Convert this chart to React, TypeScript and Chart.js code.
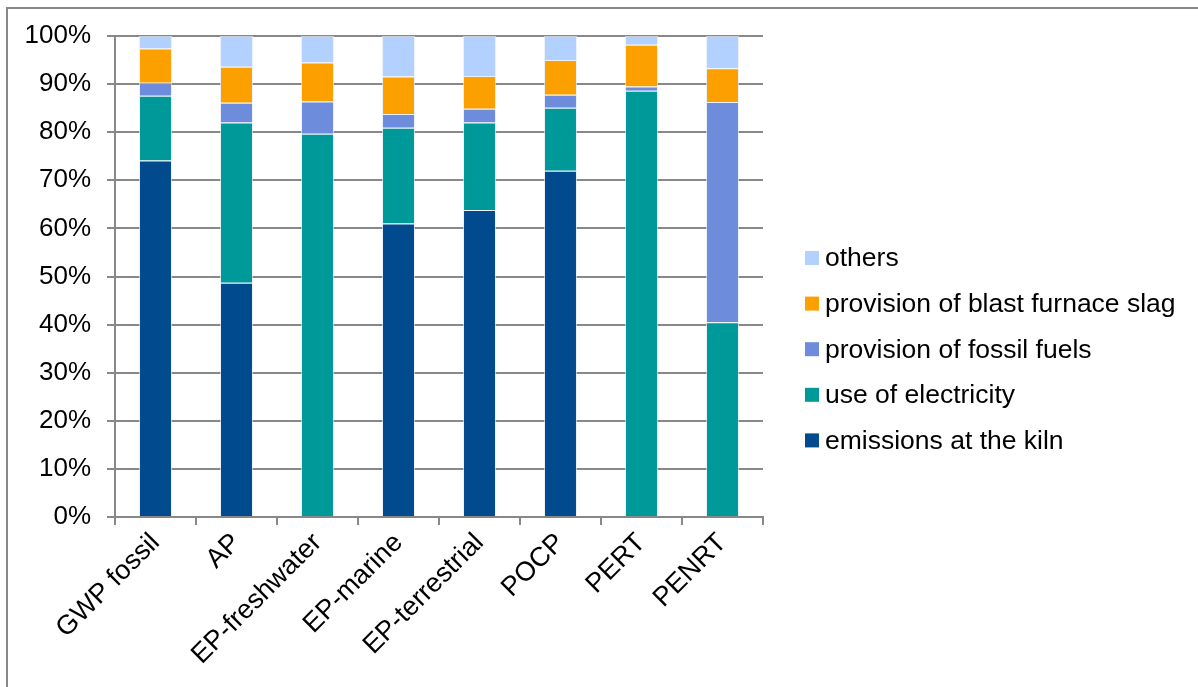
import React, { useEffect, useRef } from "react";
import { Chart, registerables } from "chart.js";

Chart.register(...registerables);

const categories = ["GWP fossil", "AP", "EP-freshwater", "EP-marine", "EP-terrestrial", "POCP", "PERT", "PENRT"];
const seriesNames = ["emissions at the kiln", "use of electricity", "provision of fossil fuels", "provision of blast furnace slag", "others"];
const emissionsKiln = [74.1, 48.7, 0, 61.0, 63.8, 72.0, 0, 0];
const useElectricity = [13.5, 33.3, 79.7, 19.9, 18.2, 13.1, 88.6, 40.5];
const fossilFuels = [2.7, 4.1, 6.7, 2.9, 2.9, 2.7, 0.9, 45.8];
const blastFurnaceSlag = [7.1, 7.5, 8.1, 7.8, 6.8, 7.2, 8.7, 7.0];
const others = [2.6, 6.4, 5.5, 8.4, 8.3, 5.0, 1.8, 6.7];
const seriesColors = ["#004A8D", "#009999", "#6E8CDC", "#FCA000", "#B3D1FF"];

const FONT = "'Liberation Sans', Arial, sans-serif";

const sideLegend = {
  id: "sideLegend",
  afterDraw(chart: any) {
    const ctx = chart.ctx;
    const ds = chart.data.datasets;
    ctx.save();
    ctx.font = `26.5px ${FONT}`;
    ctx.textBaseline = "middle";
    ctx.textAlign = "left";
    const n = ds.length;
    for (let i = 0; i < n; i++) {
      const d = ds[n - 1 - i];
      const cy = 258 + i * 45.6;
      ctx.fillStyle = d.backgroundColor;
      ctx.fillRect(805, cy - 7, 14, 14);
      ctx.fillStyle = "#000";
      ctx.fillText(d.label, 825, cy + 1);
    }
    ctx.restore();
  },
};

export default function App() {
  const ref = useRef<HTMLCanvasElement>(null);
  useEffect(() => {
    if (!ref.current) return;
    const values = [emissionsKiln, useElectricity, fossilFuels, blastFurnaceSlag, others];
    const chart = new Chart(ref.current, {
      type: "bar",
      data: {
        labels: categories,
        datasets: values.map((v, i) => ({
          label: seriesNames[i],
          data: v,
          backgroundColor: seriesColors[i],
          borderColor: "rgba(225,235,245,0.7)",
          borderWidth: 1,
          barPercentage: 0.407,
          categoryPercentage: 1,
        })),
      },
      options: {
        animation: false,
        responsive: false,
        devicePixelRatio: 1,
        layout: { padding: { top: 36, right: 435, left: 0, bottom: 0 } },
        plugins: { legend: { display: false }, tooltip: { enabled: false } },
        scales: {
          x: {
            stacked: true,
            grid: { offset: true, drawOnChartArea: false, drawTicks: true, tickLength: 8, color: "#888", lineWidth: 2 },
            border: { display: true, color: "#888", width: 2 },
            ticks: {
              minRotation: 45,
              maxRotation: 45,
              autoSkip: false,
              padding: 2,
              color: "#000",
              font: { family: FONT, size: 27 },
            },
            afterFit: (s: any) => { s.height = 170; },
          },
          y: {
            stacked: true,
            min: 0,
            max: 100,
            grid: { color: "#888", lineWidth: 2, tickLength: 8 },
            border: { display: true, color: "#888", width: 2 },
            ticks: {
              stepSize: 10,
              padding: 16,
              color: "#000",
              font: { family: FONT, size: 26 },
              callback: (v: any) => `${v}%`,
            },
            afterFit: (s: any) => { s.width = 115; },
          },
        },
      },
      plugins: [sideLegend],
    });
    return () => chart.destroy();
  }, []);

  return (
    <div style={{ position: "fixed", left: 0, top: 0, width: 1198, height: 687, background: "#fff", overflow: "hidden" }}>
      <div style={{ position: "absolute", left: 6, top: 7, width: 1300, height: 800, borderTop: "2px solid #888", borderLeft: "2px solid #888" }} />
      <canvas ref={ref} width={1198} height={687} style={{ position: "absolute", left: 0, top: 0 }} />
    </div>
  );
}
